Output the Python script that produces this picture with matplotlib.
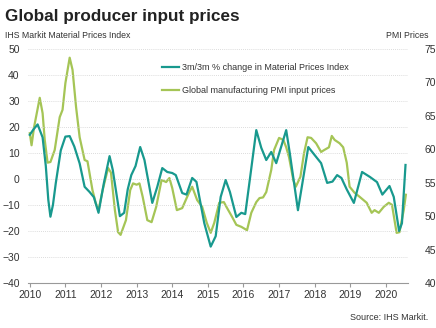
import numpy as np
import matplotlib.pyplot as plt

plt.rcParams['font.family'] = ['Liberation Sans', 'DejaVu Sans']

# 3m/3m % change in Material Prices Index (left axis)
mat_t = [2010.00, 2010.10, 2010.22, 2010.36, 2010.45, 2010.52, 2010.58, 2010.65, 2010.73, 2010.87,
         2011.00, 2011.12, 2011.25, 2011.40, 2011.54, 2011.68, 2011.80, 2011.93, 2012.08, 2012.24,
         2012.33, 2012.53, 2012.65, 2012.75, 2012.85, 2012.97, 2013.10, 2013.22, 2013.44, 2013.58,
         2013.72, 2013.86, 2014.00, 2014.10, 2014.28, 2014.40, 2014.56, 2014.68, 2014.90, 2015.08,
         2015.22, 2015.36, 2015.50, 2015.62, 2015.80, 2015.94, 2016.05, 2016.20, 2016.36, 2016.50,
         2016.64, 2016.78, 2016.92, 2017.05, 2017.20, 2017.30, 2017.53, 2017.65, 2017.82, 2018.04,
         2018.18, 2018.35, 2018.50, 2018.63, 2018.75, 2018.90, 2019.10, 2019.33, 2019.55, 2019.75,
         2019.90, 2020.10, 2020.22, 2020.37, 2020.45, 2020.55]
mat_v = [17, 19, 21, 16, 5, -8, -14.5, -10, -1.6, 11,
         16.3, 16.5, 12.5, 6, -3, -5, -7, -13, -1.6, 8.8,
         3.5, -14.3, -13, -4, 1.5, 5, 12.3, 7.3, -9.2, -3,
         4.2, 2.7, 2.3, 1.5, -5.4, -6, 0.4, -1.1, -17, -26,
         -22, -6.9, -0.4, -5, -14.6, -13, -13.5, 2, 18.8, 12,
         7.3, 10.4, 6.1, 12, 18.8, 10, -12, -2, 12.3, 8.5,
         6.1, -1.5, -1, 1.5, 0.4, -4, -9.2, 2.7, 0.8, -1.2,
         -6, -2.7, -6.9, -20, -17, 5.4]

# Global manufacturing PMI input prices (right axis)
pmi_t = [2010.00, 2010.05, 2010.12, 2010.28, 2010.36, 2010.42, 2010.50, 2010.58, 2010.70, 2010.84,
         2010.92, 2011.00, 2011.12, 2011.20, 2011.30, 2011.40, 2011.54, 2011.62, 2011.76, 2011.85,
         2011.93, 2012.05, 2012.20, 2012.28, 2012.39, 2012.48, 2012.55, 2012.70, 2012.82, 2012.90,
         2013.00, 2013.08, 2013.17, 2013.30, 2013.42, 2013.55, 2013.70, 2013.83, 2013.92, 2014.00,
         2014.13, 2014.28, 2014.47, 2014.56, 2014.70, 2014.84, 2014.97, 2015.08, 2015.18, 2015.32,
         2015.45, 2015.52, 2015.68, 2015.80, 2015.94, 2016.10, 2016.22, 2016.36, 2016.45, 2016.55,
         2016.64, 2016.78, 2016.86, 2017.00, 2017.12, 2017.20, 2017.28, 2017.40, 2017.47, 2017.60,
         2017.70, 2017.80, 2017.90, 2018.04, 2018.18, 2018.27, 2018.40, 2018.48, 2018.56, 2018.70,
         2018.80, 2018.90, 2018.98, 2019.12, 2019.26, 2019.46, 2019.60, 2019.68, 2019.80, 2019.94,
         2020.08, 2020.17, 2020.30, 2020.38, 2020.50, 2020.56]
pmi_v = [62.4, 60.6, 63.3, 67.7, 65.4, 61.4, 58, 58.1, 59.9, 64.8,
         65.9, 69.9, 73.7, 71.9, 66.3, 61.8, 58.4, 58.2, 53.9, 52,
         50.9, 54, 57.2, 56.5, 50.9, 47.6, 47.2, 49.4, 53.9, 54.9,
         54.7, 54.9, 52.9, 49.4, 49.1, 51.4, 55.4, 55.1, 55.7, 54.2,
         50.9, 51.2, 53.5, 54.4, 52.4, 51.4, 49, 47.5, 49, 52,
         52.1, 51.4, 49.9, 48.7, 48.4, 47.9, 50.5, 52.1, 52.7, 52.8,
         53.6, 56.9, 59.9, 61.7, 61.4, 60.3, 58.8, 55.4, 54.4, 55.9,
         59.4, 61.8, 61.7, 60.9, 59.6, 59.9, 60.3, 62, 61.4, 60.9,
         60.3, 58, 54.4, 53.5, 52.9, 52, 50.5, 50.9, 50.5, 51.4,
         52, 51.7, 47.5, 47.6, 50.9, 53.2]

years = list(range(2010, 2021))
left_ticks = list(range(-40, 51, 10))
right_ticks = list(range(40, 76, 5))

teal = '#18998e'
green = '#a5c556'
grey = '#333333'

fig = plt.figure(figsize=(4.36, 3.28), dpi=100)
ax = fig.add_axes([28 / 436, 1 - 283 / 328, 380 / 436, 234 / 328])
ax2 = ax.twinx()

ax.set_xlim(2009.95, 2020.62)
ax.set_ylim(-40, 50)
ax2.set_ylim(40, 75)
ax.set_yticks(left_ticks)
ax2.set_yticks(right_ticks)
ax.set_xticks(years)

for a in (ax, ax2):
    for s in ('top', 'left', 'right', 'bottom'):
        a.spines[s].set_visible(False)
ax.spines['bottom'].set_visible(True)
ax.spines['bottom'].set_color('#999999')
ax.spines['bottom'].set_linewidth(0.8)

ax.tick_params(axis='y', length=0, labelsize=7.5, labelcolor=grey, pad=6)
ax.tick_params(axis='x', length=3, color='#999999', labelsize=7.5, labelcolor=grey, pad=2)
ax2.tick_params(axis='y', length=0, labelsize=7.5, labelcolor=grey, pad=20)
for lab in ax2.get_yticklabels():
    lab.set_horizontalalignment('right')

for v in left_ticks[1:]:
    ax.axhline(v, color='#d0d0d0', lw=0.6, ls=(0, (1, 1.5)), zorder=0)

l1, = ax.plot(mat_t, mat_v, color=teal, lw=1.6, label='3m/3m % change in Material Prices Index')
l2, = ax2.plot(pmi_t, pmi_v, color=green, lw=1.6, label='Global manufacturing PMI input prices')
ax.set_zorder(ax2.get_zorder() + 1)
ax.patch.set_visible(False)

ax.legend(handles=[l1, l2], loc='upper left', bbox_to_anchor=(0.33, 0.975), frameon=False,
          fontsize=6.5, handlelength=1.9, handletextpad=0.4, labelspacing=1.6,
          labelcolor=grey)

fig.text(5 / 436, 1 - 16 / 328, 'Global producer input prices', fontsize=12.3,
         fontweight='bold', color='#222222', va='center', ha='left')
fig.text(5 / 436, 1 - 35 / 328, 'IHS Markit Material Prices Index', fontsize=6.3,
         color=grey, va='center', ha='left')
fig.text(428 / 436, 1 - 35 / 328, 'PMI Prices', fontsize=6.3,
         color=grey, va='center', ha='right')
fig.text(428 / 436, 1 - 318 / 328, 'Source: IHS Markit.', fontsize=6.5,
         color=grey, va='center', ha='right')

fig.savefig('out.png', dpi=100)
